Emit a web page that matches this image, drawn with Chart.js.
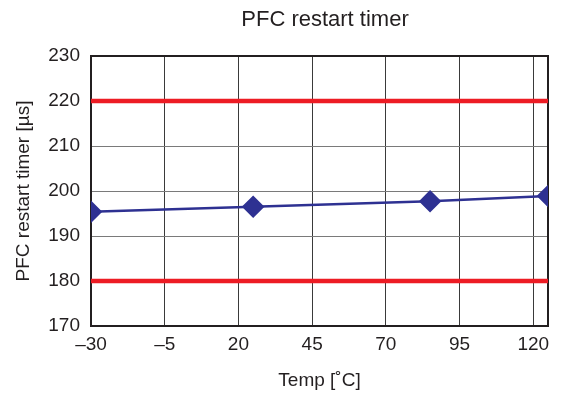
<!DOCTYPE html>
<html>
<head>
<meta charset="utf-8">
<script src="https://cdn.jsdelivr.net/npm/chart.js@4/dist/chart.umd.min.js"></script>
<style>
  html, body { margin: 0; padding: 0; background: #fff; }
  #wrap { width: 564px; height: 396px; }
</style>
</head>
<body>
<div id="wrap"><canvas id="chart" width="564" height="396"></canvas></div>
<script>
const temps = [-30, 25, 85, 125];
const timer = [195.4, 196.5, 197.7, 198.9];
const limitX = [-30, 125];
const limitMax = [220, 220];
const limitMin = [180, 180];
const xTicks = [-30, -5, 20, 45, 70, 95, 120];
const chartTitle = "PFC restart timer";

const font = "'Liberation Sans', Arial, sans-serif";
const ink = "#231f20";

// frame round the plot area + title placed like the original
const framePlugin = {
  id: "frame",
  beforeDatasetsDraw(chart) {
    const a = chart.chartArea;
    const c = chart.ctx;
    c.save();
    c.strokeStyle = ink;
    c.lineWidth = 2;
    c.strokeRect(a.left, a.top, a.right - a.left, a.bottom - a.top);
    c.restore();
  },
  afterDraw(chart) {
    const c = chart.ctx;
    c.save();
    c.fillStyle = ink;
    c.font = "22px " + font;
    c.textAlign = "center";
    c.textBaseline = "middle";
    c.fillText(chartTitle, 325, 20);
    c.restore();
  },
};

new Chart(document.getElementById("chart"), {
  type: "line",
  data: {
    datasets: [
      {
        data: limitX.map((x, i) => ({ x, y: limitMax[i] })),
        borderColor: "#ed1c24",
        borderWidth: 4.5,
        pointRadius: 0,
      },
      {
        data: limitX.map((x, i) => ({ x, y: limitMin[i] })),
        borderColor: "#ed1c24",
        borderWidth: 4.5,
        pointRadius: 0,
      },
      {
        data: temps.map((x, i) => ({ x, y: timer[i] })),
        borderColor: "#2e3192",
        backgroundColor: "#2e3192",
        borderWidth: 2.5,
        pointStyle: "rectRot",
        pointRadius: 9.5,
        pointHoverRadius: 9.5,
      },
    ],
  },
  options: {
    responsive: false,
    animation: false,
    layout: { padding: { left: 8, right: 16, top: 56, bottom: 4 } },
    plugins: {
      legend: { display: false },
      tooltip: { enabled: false },
    },
    scales: {
      x: {
        type: "linear",
        min: -30,
        max: 125,
        afterBuildTicks: (s) => { s.ticks = xTicks.map((v) => ({ value: v })); },
        afterFit: (s) => { s.height = 66; },
        grid: { color: "#3a3a3a", lineWidth: 1, drawTicks: false },
        border: { display: false },
        ticks: {
          color: ink,
          font: { family: font, size: 19 },
          padding: 7,
          maxRotation: 0,
          callback: (v) => String(v).replace("-", "\u2013"),
        },
        title: {
          display: true,
          text: "Temp [\u02daC]",
          color: ink,
          font: { family: font, size: 19 },
          padding: { top: 4, bottom: 0 },
        },
      },
      y: {
        min: 170,
        max: 230,
        afterFit: (s) => { s.width = 83; },
        grid: { color: "#7a7a7a", lineWidth: 1, drawTicks: false },
        border: { display: false },
        ticks: {
          stepSize: 10,
          color: ink,
          font: { family: font, size: 19 },
          padding: 11,
        },
        title: {
          display: true,
          text: "PFC restart timer [\u00b5s]",
          color: ink,
          font: { family: font, size: 19 },
          padding: { top: 4, bottom: 4 },
        },
      },
    },
  },
  plugins: [framePlugin],
});
</script>
</body>
</html>
